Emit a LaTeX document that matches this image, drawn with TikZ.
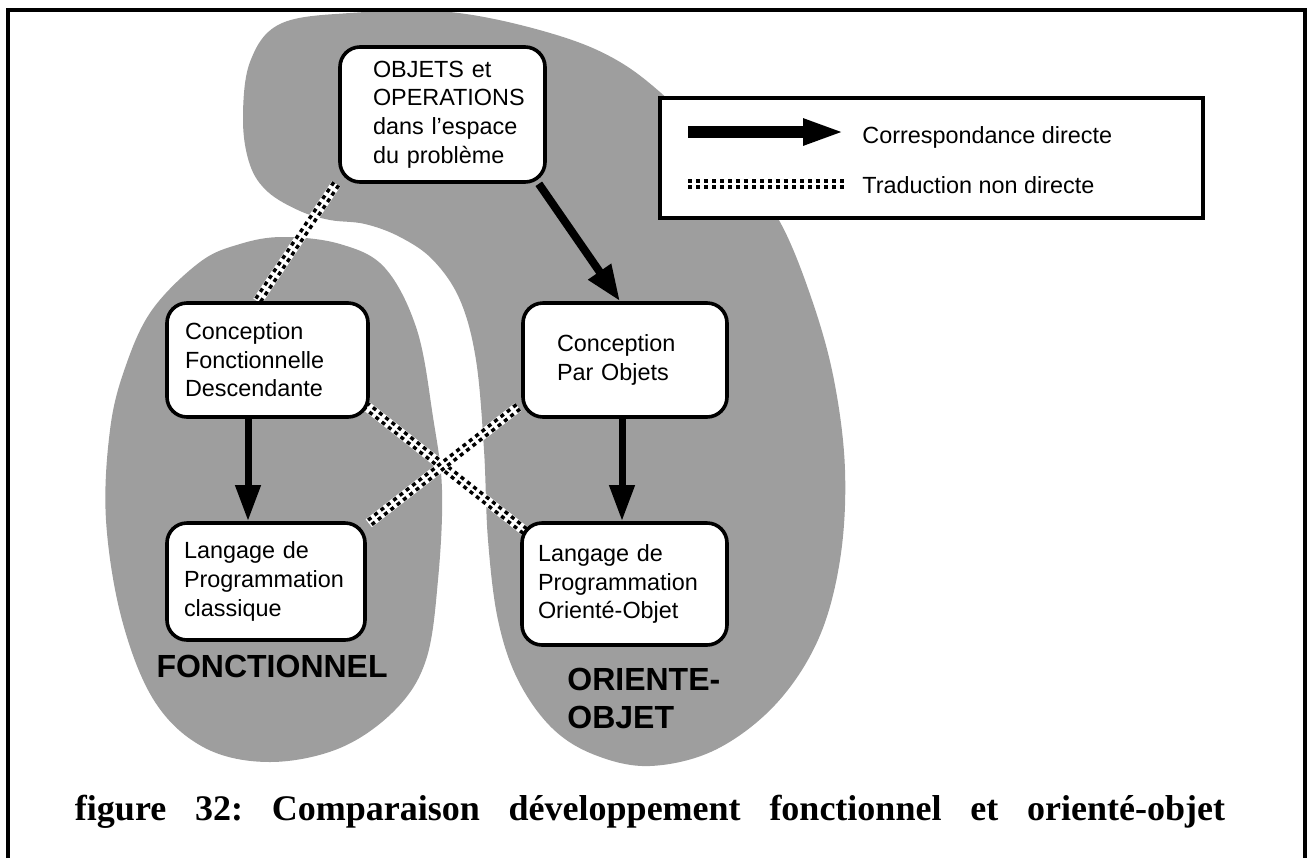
\documentclass[tikz,border=0pt]{standalone}
\usepackage{fontspec}
\setmainfont{Liberation Sans}
\newfontfamily\capfont{Liberation Serif}
\usetikzlibrary{arrows.meta,calc}
\pgfdeclarelayer{shadelayer}
\pgfdeclarelayer{connlayer}
\pgfsetlayers{shadelayer,connlayer,main}
\tikzset{
  box/.style={draw, line width=1.8pt, fill=white, rounded corners=10pt, align=left,
    inner xsep=0pt, inner ysep=0pt, font=\fontsize{11.7}{14.3}\selectfont},
  trad/.style={preaction={draw, white, line width=5pt, solid},
    draw=black, line width=4.6pt, dash pattern=on 2pt off 2pt,
    postaction={draw, white, line width=1pt, solid}},
  direct/.style={draw=black, -{Triangle[length=18pt,width=12pt]}},
  zone/.style={fill=black!38, draw=none},
  biglabel/.style={font=\fontsize{16}{19}\selectfont\bfseries, align=left, inner sep=0pt},
  legtext/.style={font=\fontsize{11.7}{14.3}\selectfont, inner sep=0pt}
}
\begin{document}
\begin{tikzpicture}[x=0.5pt, y=-0.5pt]
\useasboundingbox (0,0) rectangle (1308,858);

% frame
\draw[line width=2pt] (8,858) -- (8,10) -- (1305,10) -- (1305,858);

% shaded zones
\begin{pgfonlayer}{shadelayer}
\fill[zone] plot[smooth cycle, tension=0.6] coordinates {
  (283,237) (340,244) (385,268) (417,330) (433,417) (442,490) (438,580)
  (426,660) (395,710) (340,748) (270,762) (205,748) (155,702) (122,620)
  (106,520) (110,430) (125,368) (152,310) (200,262) (240,244)};
\fill[zone] plot[smooth cycle, tension=0.6] coordinates {
  (350,13) (450,12) (550,33) (620,62) (680,110) (740,170) (780,222)
  (812,300) (834,380) (845,470) (840,560) (818,640) (775,705) (715,750)
  (650,766) (595,755) (552,728) (518,680) (498,620) (488,540) (484,450)
  (476,360) (460,300) (433,260) (400,237) (365,224) (330,220) (300,211)
  (268,192) (250,165) (243,120) (250,62) (280,24)};
\end{pgfonlayer}

% boxes
\node[box, minimum width=102.5pt, minimum height=67.5pt, text width=69.5pt] (obj) at (442.5,114.5)
  {OBJETS et\\OPERATIONS\\dans~l'espace\\du probl\`eme};
\node[box, minimum width=100.5pt, minimum height=57pt, text width=82.5pt] (cf) at (267.5,360)
  {Conception\\Fonctionnelle\\Descendante};
\node[box, minimum width=102pt, minimum height=57pt, text width=68pt] (cpo) at (625,360)
  {Conception\\Par Objets};
\node[box, minimum width=99pt, minimum height=58.5pt, text width=82pt] (lc) at (266,581.5)
  {Langage de\\Programmation\\classique};
\node[box, minimum width=102.5pt, minimum height=61pt, text width=86.5pt] (loo) at (624.5,584)
  {Langage de\\Programmation\\Orient\'e-Objet};

% indirect translations
\begin{pgfonlayer}{connlayer}
\draw[trad] ($(obj.south west)+(-2,0)$) -- ($(cf.north)+(-10,0)$);
\draw[trad] ($(cf.south east)+(-5,-14)$) -- ($(loo.north west)+(5,10)$);
\draw[trad] ($(cpo.south west)+(-3,-12)$) -- ($(lc.north east)+(2,2)$);
\end{pgfonlayer}

% direct correspondences
\draw[direct, line width=4pt, -{Triangle[length=18pt,width=13pt]}] ($(obj.south east)+(-8,0)$) -- ($(cpo.north)+(-5,0)$);
\draw[direct, line width=3.5pt] ($(cf.south)+(-19.5,0)$) -- ($(lc.north)+(-18,0)$);
\draw[direct, line width=3.5pt] ($(cpo.south)+(-3,0)$) -- ($(loo.north)+(-2.5,0)$);

% zone labels
\node[biglabel, anchor=east] (fonc) at (388,666) {FONCTIONNEL};
\node[biglabel, anchor=north west] (oo) at (567,668) {ORIENTE-\\OBJET};

% legend
\node[draw, line width=2pt, fill=white, minimum width=271.5pt, minimum height=60pt, inner sep=0pt] (leg) at (931.5,158) {};
\coordinate (la1) at (688,132);
\coordinate (la2) at (845,132);
\coordinate (lb1) at (688,184);
\coordinate (lb2) at (845,184);
\draw[direct, line width=6pt, -{Triangle[length=21pt,width=12pt]}] (la1) -- (la2);
\draw[trad] (lb1) -- (lb2);
\node[legtext, anchor=base west] (lt1) at (862,143) {Correspondance directe};
\node[legtext, anchor=base west] (lt2) at (862,193) {Traduction non directe};

% caption
\node[inner sep=0pt] (cap) at (650,812)
  {\frenchspacing\capfont\bfseries\fontsize{18}{21}\selectfont\makebox[575pt][s]{figure 32: Comparaison d\'eveloppement fonctionnel et orient\'e-objet}};
\end{tikzpicture}
\end{document}
